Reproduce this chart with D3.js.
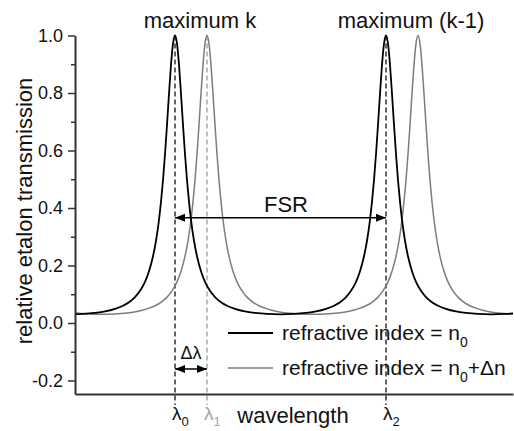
<!DOCTYPE html>
<html>
<head>
<meta charset="utf-8">
<script src="https://cdn.jsdelivr.net/npm/d3@7"></script>
<style>
  html, body { margin: 0; padding: 0; background: #fff; }
  svg { display: block; font-family: "Liberation Sans", Arial, sans-serif; }
</style>
</head>
<body>
<svg id="chart" width="514" height="431"></svg>
<script>
// ---- data ----
// one period of the etalon transmission profile, offsets from a peak (wavelength a.u.)
const profileOffset = [-105.5, -92, -80, -70, -60, -52, -46, -40, -35, -30, -26, -22, -19, -16, -14, -12, -10, -8, -6, -4, -2,
                       0, 2, 4, 6, 8, 10, 12, 14, 16, 19, 22, 26, 30, 35, 40, 46, 52, 60, 70, 80, 92];
const profileT = [0.0303, 0.0315, 0.035, 0.040, 0.049, 0.060, 0.072, 0.090, 0.112, 0.143, 0.180, 0.232, 0.286, 0.359, 0.422, 0.497, 0.587, 0.689, 0.797, 0.898, 0.972,
                  1.0, 0.972, 0.898, 0.797, 0.689, 0.587, 0.497, 0.422, 0.359, 0.286, 0.232, 0.180, 0.143, 0.112, 0.090, 0.072, 0.060, 0.049, 0.040, 0.035, 0.0315];
const peaksN0 = [-111, 100, 311, 522];      // refractive index = n0
const peaksN0dn = [-79, 132, 343, 554];     // refractive index = n0 + Δn
const lambdaNames = ["0", "1", "2"];
const lambdaPos = [100, 132, 311];
const yTicks = [-0.2, 0.0, 0.2, 0.4, 0.6, 0.8, 1.0];
const yMinorTicks = [-0.1, 0.1, 0.3, 0.5, 0.7, 0.9];
const seriesNames = ["refractive index = n", "refractive index = n"];
const xDomain = [0, 438];
const yDomain = [-0.247, 1.0];

// ---- layout ----
const svg = d3.select("#chart");
const mLeft = 75, mRight = 513, mTop = 35.5, mBottom = 394;
const x = d3.scaleLinear().domain(xDomain).range([mLeft, mRight]);
const y = d3.scaleLinear().domain(yDomain).range([mBottom, mTop]);
const BLACK = "#000", GRAY = "#7d7d7d", LGRAY = "#a3a3a3", AXIS = "#333";

const defs = svg.append("defs");
defs.append("clipPath").attr("id", "plotclip")
  .append("rect").attr("x", mLeft).attr("y", 0).attr("width", mRight - mLeft).attr("height", mBottom);
defs.append("marker").attr("id", "arrow").attr("viewBox", "0 0 10 8")
  .attr("refX", 10).attr("refY", 4).attr("markerWidth", 10).attr("markerHeight", 8)
  .attr("markerUnits", "userSpaceOnUse").attr("orient", "auto-start-reverse")
  .append("path").attr("d", "M0,0 L10,4 L0,8 Z").attr("fill", "#000");

function buildCurve(peaks) {
  const pts = [];
  peaks.forEach(p => profileOffset.forEach((o, i) => pts.push([p + o, profileT[i]])));
  pts.sort((a, b) => a[0] - b[0]);
  return pts.filter(d => d[0] >= xDomain[0] - 30 && d[0] <= xDomain[1] + 30);
}

const line = d3.line().x(d => x(d[0])).y(d => y(d[1])).curve(d3.curveMonotoneX);

// dashed marker lines
const dashBottom = y(-0.285);
lambdaPos.forEach((p, i) => {
  svg.append("line")
    .attr("x1", x(p)).attr("x2", x(p))
    .attr("y1", y(1.0)).attr("y2", dashBottom)
    .attr("stroke", i === 1 ? LGRAY : "#222")
    .attr("stroke-width", 1.4)
    .attr("stroke-dasharray", "5,3");
});

// curves
const g = svg.append("g").attr("clip-path", "url(#plotclip)");
g.append("path").datum(buildCurve(peaksN0dn)).attr("d", line)
  .attr("fill", "none").attr("stroke", GRAY).attr("stroke-width", 1.5);
g.append("path").datum(buildCurve(peaksN0)).attr("d", line)
  .attr("fill", "none").attr("stroke", BLACK).attr("stroke-width", 1.8);

// axes
const yAxis = svg.append("g").attr("transform", `translate(${mLeft},0)`)
  .call(d3.axisLeft(y).tickValues(yTicks).tickSize(7).tickSizeOuter(0).tickPadding(5)
    .tickFormat(d => d.toFixed(1)));
yAxis.selectAll("text").attr("font-size", 18).attr("fill", "#111")
  .attr("font-family", "'Liberation Sans', Arial, sans-serif");
const yMinor = svg.append("g").attr("transform", `translate(${mLeft},0)`)
  .call(d3.axisLeft(y).tickValues(yMinorTicks).tickSize(4).tickFormat(""));
yMinor.select(".domain").remove();
const xAxis = svg.append("g").attr("transform", `translate(0,${mBottom})`)
  .call(d3.axisBottom(x).tickValues([]).tickSizeOuter(0));
svg.selectAll(".domain").attr("stroke", AXIS).attr("stroke-width", 2);
svg.selectAll(".tick line").attr("stroke", AXIS).attr("stroke-width", 1.5);

// y-axis title
svg.append("text").attr("transform", `translate(32,${211}) rotate(-90)`)
  .attr("text-anchor", "middle").attr("font-size", 22).attr("fill", "#111")
  .text("relative etalon transmission");

// x-axis title
svg.append("text").attr("x", x(218)).attr("y", 423)
  .attr("text-anchor", "middle").attr("font-size", 22).attr("fill", "#111")
  .text("wavelength");

// lambda labels
lambdaPos.forEach((p, i) => {
  const t = svg.append("text").attr("x", x(p) - 3).attr("y", 420)
    .attr("font-size", 19).attr("fill", i === 1 ? LGRAY : "#111");
  t.append("tspan").text("λ");
  t.append("tspan").attr("font-size", 13).attr("dy", 6).text(lambdaNames[i]);
});

// peak labels
svg.append("text").attr("x", x(125)).attr("y", y(1.026))
  .attr("text-anchor", "middle").attr("font-size", 22).attr("fill", "#111").text("maximum k");
svg.append("text").attr("x", x(336)).attr("y", y(1.026))
  .attr("text-anchor", "middle").attr("font-size", 22).attr("fill", "#111").text("maximum (k-1)");

// FSR arrow
const fsrY = y(0.366);
svg.append("line").attr("x1", x(lambdaPos[0])).attr("x2", x(lambdaPos[2]))
  .attr("y1", fsrY).attr("y2", fsrY).attr("stroke", "#000").attr("stroke-width", 1.5)
  .attr("marker-start", "url(#arrow)").attr("marker-end", "url(#arrow)");
svg.append("text").attr("x", x(211)).attr("y", y(0.387))
  .attr("text-anchor", "middle").attr("font-size", 22).attr("fill", "#111").text("FSR");

// Δλ arrow
const dlY = y(-0.16);
svg.append("line").attr("x1", x(lambdaPos[0])).attr("x2", x(lambdaPos[1]))
  .attr("y1", dlY).attr("y2", dlY).attr("stroke", "#000").attr("stroke-width", 1.5)
  .attr("marker-start", "url(#arrow)").attr("marker-end", "url(#arrow)");
svg.append("text").attr("x", x((lambdaPos[0] + lambdaPos[1]) / 2)).attr("y", y(-0.125))
  .attr("text-anchor", "middle").attr("font-size", 18).attr("fill", "#111").text("Δλ");

// legend
const legY = [333, 368];
const legColors = [BLACK, GRAY];
const legWidths = [2, 1.5];
legY.forEach((ly, i) => {
  svg.append("line").attr("x1", 228).attr("x2", 273).attr("y1", ly).attr("y2", ly)
    .attr("stroke", legColors[i]).attr("stroke-width", legWidths[i]);
  const t = svg.append("text").attr("x", 282).attr("y", ly + 7)
    .attr("font-size", 21).attr("fill", "#111");
  t.append("tspan").text(seriesNames[i]);
  t.append("tspan").attr("font-size", 14).attr("dy", 7).text("0");
  if (i === 1) t.append("tspan").attr("dy", -7).text("+Δn");
});
</script>
</body>
</html>
